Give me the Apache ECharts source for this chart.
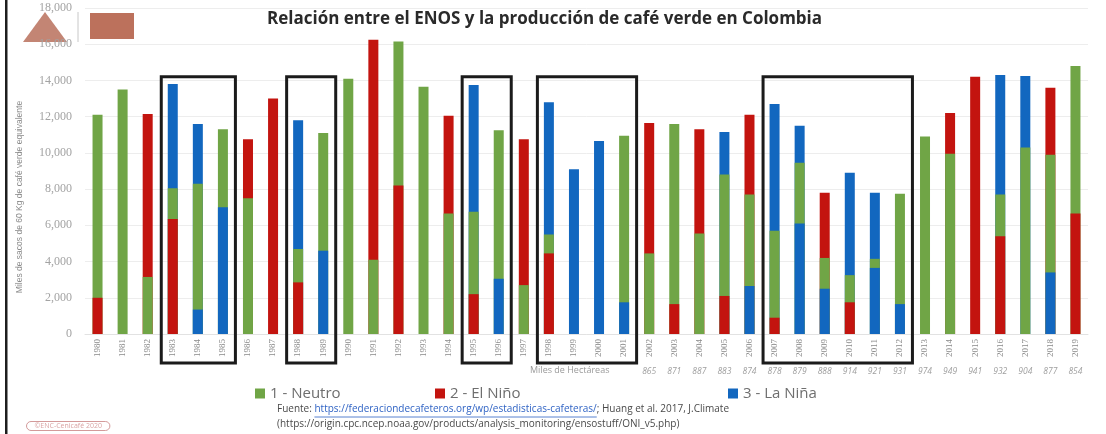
<!DOCTYPE html>
<html><head><meta charset="utf-8">
<script src="https://cdn.jsdelivr.net/npm/echarts@6/dist/echarts.min.js"></script>
<style>html,body{margin:0;padding:0;background:#fff}#c{width:1106px;height:434px}</style>
</head><body><div id="c"></div>
<script>
// ---------- DATA ----------
const years = ['1980','1981','1982','1983','1984','1985','1986','1987','1988','1989',
  '1990','1991','1992','1993','1994','1995','1996','1997','1998','1999',
  '2000','2001','2002','2003','2004','2005','2006','2007','2008','2009',
  '2010','2011','2012','2013','2014','2015','2016','2017','2018','2019'];
// Phase codes: 1 = Neutro, 2 = El Niño, 3 = La Niña
const phaseNames = ['1 - Neutro', '2 - El Niño', '3 - La Niña'];
// Segment 1 (bottom): phase and upper boundary (miles de sacos)
const seg1Phase = [2,1,1,2,3,3,1,2,2,3, 1,1,2,1,1,2,3,1,2,3, 3,3,1,2,1,2,3,2,3,3, 2,3,3,1,1,2,2,1,3,2];
const seg1Top = [2000,13500,3150,6350,1350,7000,7500,13000,2850,4600,
  14100,4100,8200,13650,6650,2200,3050,2700,4450,9100,
  10650,1750,4450,1650,5550,2100,2650,900,6100,2500,
  1750,3650,1650,10900,9950,14200,5400,10300,3400,6650];
// Segment 2 (middle)
const seg2Phase = [1,null,2,1,1,1,2,null,1,1, null,2,1,null,2,1,1,2,1,null, null,1,2,1,2,1,1,1,1,1, 1,1,1,null,2,null,1,3,1,1];
const seg2Top = [12100,null,12150,8050,8300,11300,10750,null,4700,11100,
  null,16250,16150,null,12050,6750,11250,10750,5500,null,
  null,10950,11650,11600,11300,8800,7700,5700,9450,4200,
  3250,4150,7750,null,12200,null,7700,14250,9900,14800];
// Segment 3 (top)
const seg3Phase = [null,null,null,3,3,null,null,null,3,null, null,null,null,null,null,3,null,null,3,null, null,null,null,null,null,3,2,3,3,2, 3,3,null,null,null,null,3,null,2,null];
const seg3Top = [null,null,null,13800,11600,null,null,null,11800,null,
  null,null,null,null,null,13750,null,null,12800,null,
  null,null,null,null,null,11150,12100,12700,11500,7800,
  8900,7800,null,null,null,null,14300,null,13600,null];
// Miles de Hectáreas (2002-2019)
const hectares = [null,null,null,null,null,null,null,null,null,null,
  null,null,null,null,null,null,null,null,null,null,
  null,null,'865','871','887','883','874','878','879','888',
  '914','921','931','974','949','941','932','904','877','854'];
const yTicks = [0,2000,4000,6000,8000,10000,12000,14000,16000,18000];
const boxGroups = [['1983','1985'],['1988','1989'],['1995','1996'],['1998','2001'],['2007','2012']];
const boxTopValue = 14200;
const yTitle = 'Miles de sacos de 60 Kg de café verde equivalente';

// ---------- STYLE ----------
const phaseColors = {1:'#70A546', 2:'#C3140F', 3:'#1267BF'};
const chart = echarts.init(document.getElementById('c'));

function segData(tops, phases){
  return tops.map((v,i)=> v==null ? null : {value:v, itemStyle:{color:phaseColors[phases[i]]}});
}
const barCommon = {type:'bar', barWidth:10, barGap:'-100%', xAxisIndex:0, yAxisIndex:0, legendHoverLink:false};

const legendPos = [250, 430, 723];
chart.setOption({
  animation:false,
  backgroundColor:'#ffffff',
  title:{text:'Relación entre el ENOS y la producción de café verde en Colombia', left:262, top:6,
    textStyle:{fontFamily:'Open Sans', fontWeight:'bold', fontSize:17, color:'#2a2a2a'}},
  grid:{left:85, right:18, top:8, bottom:100},
  legend: phaseNames.map((n,i)=>({data:[n], left:legendPos[i], top:381, icon:'rect', itemWidth:10, itemHeight:10, itemGap:6,
    textStyle:{fontFamily:'Open Sans', fontSize:15, color:'#6e6e6e'}})),
  xAxis:[
    {type:'category', data:years, axisLine:{lineStyle:{color:'#e2e2e2'}}, axisTick:{show:false},
      axisLabel:{rotate:90, fontSize:9, color:'#8a8a8a', margin:5, fontFamily:'Liberation Serif'}},
    {type:'category', data:hectares.map(h=>h==null?'':h), position:'bottom', offset:33,
      axisLine:{show:false}, axisTick:{show:false},
      axisLabel:{fontSize:8.5, color:'#a0a0a0', fontStyle:'italic', margin:0, interval:0, fontFamily:'Open Sans'}}
  ],
  yAxis:{type:'value', min:yTicks[0], max:yTicks[yTicks.length-1], interval:2000,
    axisLine:{show:false}, axisTick:{show:false},
    splitLine:{lineStyle:{color:'#ededed'}},
    axisLabel:{margin:13, fontSize:12, color:'#a3a3a3', fontFamily:'Liberation Serif',
      formatter:v=>v.toLocaleString('en-US')}},
  series:[
    Object.assign({name:'seg3', data:segData(seg3Top, seg3Phase)}, barCommon),
    Object.assign({name:'seg2', data:segData(seg2Top, seg2Phase)}, barCommon),
    Object.assign({name:'seg1', data:segData(seg1Top, seg1Phase)}, barCommon),
    Object.assign({name:phaseNames[0], data:[], itemStyle:{color:phaseColors[1]}}, barCommon),
    Object.assign({name:phaseNames[1], data:[], itemStyle:{color:phaseColors[2]}}, barCommon),
    Object.assign({name:phaseNames[2], data:[], itemStyle:{color:phaseColors[3]}}, barCommon)
  ]
});

// ---------- GRAPHICS (boxes, source, decorations) ----------
const graphics = [];
const base = chart.convertToPixel({xAxisIndex:0, yAxisIndex:0}, [0, 0]);
boxGroups.forEach(g=>{
  const a = chart.convertToPixel({xAxisIndex:0, yAxisIndex:0}, [g[0], boxTopValue]);
  const b = chart.convertToPixel({xAxisIndex:0, yAxisIndex:0}, [g[1], boxTopValue]);
  graphics.push({type:'rect', silent:true, z:10,
    shape:{x:a[0]-11.5, y:a[1], width:(b[0]-a[0])+24, height:(base[1]+29)-a[1]},
    style:{fill:'none', stroke:'#1b1b1b', lineWidth:3}});
});
// Y axis title
graphics.push({type:'text', x:20, y:197, rotation:Math.PI/2,
  style:{text:yTitle, font:'8.5px "Liberation Sans"', fill:'#8a8a8a', align:'center', verticalAlign:'middle'}});
// Miles de Hectáreas label
graphics.push({type:'text', left:530, top:366, style:{text:'Miles de Hectáreas', font:'9px "Open Sans"', fill:'#9a9a9a'}});
// Source lines
const srcFont = '10px "Open Sans"';
const ctx = document.createElement('canvas').getContext('2d');
ctx.font = srcFont;
const p1 = 'Fuente: ', link = 'https://federaciondecafeteros.org/wp/estadisticas-cafeteras/';
const x0 = 277, y1 = 404;
const w1 = ctx.measureText(p1).width, wl = ctx.measureText(link).width;
graphics.push({type:'text', x:x0, y:y1, style:{text:p1, font:srcFont, fill:'#4a4a4a'}});
graphics.push({type:'text', x:x0+w1, y:y1, style:{text:link, font:srcFont, fill:'#2f63c4'}});
graphics.push({type:'line', shape:{x1:x0+w1, y1:y1+13, x2:x0+w1+wl, y2:y1+13}, style:{stroke:'#2f63c4', lineWidth:0.8}});
graphics.push({type:'text', x:x0+w1+wl, y:y1, style:{text:'; Huang et al. 2017, J.Climate', font:srcFont, fill:'#4a4a4a'}});
graphics.push({type:'text', x:x0, y:y1+15, style:{text:'(https://origin.cpc.ncep.noaa.gov/products/analysis_monitoring/ensostuff/ONI_v5.php)', font:srcFont, fill:'#4a4a4a'}});
// Left frame line
graphics.push({type:'rect', shape:{x:5, y:0, width:2.5, height:434}, style:{fill:'#1e1e1e'}});
// Logos
graphics.push({type:'polygon', shape:{points:[[23,42],[45,12],[67,42]]}, style:{fill:'#b9705c', opacity:0.85}});
graphics.push({type:'line', shape:{x1:78, y1:12, x2:78, y2:42}, style:{stroke:'#c8c8c8', lineWidth:1}});
graphics.push({type:'rect', shape:{x:90, y:13, width:44, height:26}, style:{fill:'#b5624a', opacity:0.9}});
// Copyright
graphics.push({type:'text', left:26, top:421, style:{text:'©ENC-Cenicafé 2020', font:'7px "Open Sans"', fill:'#d9a3a3',
  padding:[1,8], borderColor:'#d39a9a', borderWidth:1, borderRadius:6}});
chart.setOption({graphic:graphics});
</script></body></html>
